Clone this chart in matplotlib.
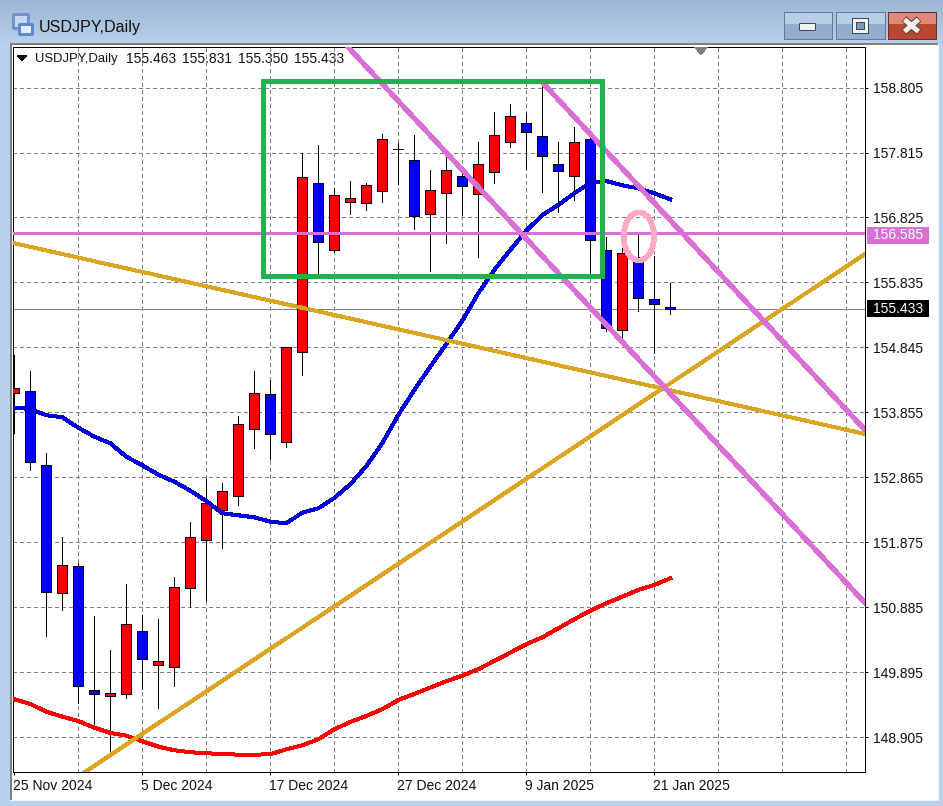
#!/usr/bin/env python3
# USDJPY daily chart, MT4 window look
import numpy as np
import matplotlib
matplotlib.use("Agg")
import matplotlib.pyplot as plt
from matplotlib.colors import LinearSegmentedColormap
from matplotlib.patches import Rectangle, Ellipse, Polygon, FancyBboxPatch
from matplotlib.transforms import ScaledTranslation

W, H = 943, 806
PX = 0.72  # 1 px in points at dpi 100

plt.rcParams["font.family"] = ["Liberation Sans", "DejaVu Sans"]
plt.rcParams["lines.antialiased"] = False
plt.rcParams["patch.antialiased"] = False

# ── data ──────────────────────────────────────────
opens = [154.148, 154.183, 153.051, 151.102, 151.513, 149.624, 149.533, 149.563, 150.523, 150.014, 149.974,
         151.178, 151.909, 152.366, 152.579, 153.599, 154.132, 153.401, 154.772, 157.351, 156.335, 157.066,
         157.051, 157.224, 157.864, 157.696, 156.874, 157.194, 157.453, 157.179, 157.514, 157.980, 158.260,
         158.062, 157.636, 157.453, 158.025, 156.326, 155.107, 156.219, 155.579, 155.463]
highs = [154.731, 154.487, 153.234, 151.959, 151.563, 150.756, 150.238, 151.243, 150.771, 150.710, 151.350,
         152.187, 152.842, 152.781, 153.802, 154.487, 154.350, 154.848, 157.808, 157.930, 157.275, 157.381,
         157.351, 158.097, 157.960, 158.082, 157.549, 157.762, 157.594, 157.975, 158.432, 158.554, 158.412,
         158.889, 157.975, 158.204, 158.036, 156.528, 156.376, 156.559, 156.239, 155.831]
lows = [153.548, 152.979, 150.451, 150.852, 149.435, 149.080, 148.689, 149.511, 149.644, 149.359, 149.694,
        150.893, 150.999, 151.796, 152.451, 153.319, 153.151, 153.334, 154.431, 155.934, 156.300, 156.879,
        156.939, 157.061, 157.340, 156.655, 156.015, 156.429, 156.863, 156.228, 157.355, 157.904, 157.564,
        157.218, 156.914, 157.096, 155.934, 155.101, 154.975, 155.406, 154.757, 155.350]
closes = [154.224, 153.106, 151.126, 151.528, 149.694, 149.563, 149.578, 150.629, 150.096, 150.066, 151.193,
          151.954, 152.472, 152.655, 153.675, 154.148, 153.532, 154.848, 157.438, 156.457, 157.163, 157.118,
          157.316, 158.016, 157.864, 156.853, 157.240, 157.544, 157.310, 157.636, 158.077, 158.367, 158.123,
          157.757, 157.538, 157.971, 156.478, 155.138, 156.280, 155.595, 155.503, 155.433]

ma_blue = [153.928, 153.908, 153.813, 153.782, 153.624, 153.487, 153.386, 153.182, 153.051, 152.908, 152.801,
           152.664, 152.507, 152.320, 152.289, 152.259, 152.192, 152.168, 152.329, 152.396, 152.553, 152.762,
           153.040, 153.386, 153.817, 154.198, 154.553, 154.898, 155.253, 155.671, 156.026, 156.330, 156.624,
           156.863, 157.016, 157.194, 157.355, 157.381, 157.316, 157.270, 157.194, 157.102]
ma_red = [149.487, 149.415, 149.298, 149.222, 149.156, 149.054, 148.974, 148.933, 148.847, 148.765, 148.710,
          148.680, 148.664, 148.654, 148.643, 148.643, 148.649, 148.725, 148.786, 148.878, 149.030, 149.141,
          149.233, 149.335, 149.476, 149.568, 149.664, 149.761, 149.846, 149.944, 150.070, 150.197, 150.325,
          150.431, 150.568, 150.705, 150.836, 150.949, 151.050, 151.152, 151.228, 151.330]

price_ticks = [158.805, 157.815, 156.825, 155.835, 154.845, 153.855, 152.865, 151.875, 150.885, 149.895, 148.905]
date_pos = [0, 8, 16, 24, 32, 40]
date_labels = ["25 Nov 2024", "5 Dec 2024", "17 Dec 2024", "27 Dec 2024", "9 Jan 2025", "21 Jan 2025"]
grid_pos = list(range(4, 53, 4))

res_level = 156.585
channel_low = ([20.86, 53.17], [159.422, 150.954])
channel_up = ([32.98, 53.17], [158.889, 153.589])
gold_down = ([-0.08, 53.17], [156.437, 153.528])
gold_up = ([4.42, 53.17], [148.380, 156.269])
green_box = (15.525, 155.927, 21.185, 2.980)   # x, y, w, h
pink_ring = (39.04, 156.537, 1.9, 0.731)       # x, y, w, h

# ── window chrome (pixel coords) ──────────────────
fig = plt.figure(figsize=(W / 100, H / 100), dpi=100, facecolor="#b9d1ea")
bg = fig.add_axes([0, 0, 1, 1], zorder=0)
bg.axis("off")
bg.imshow(np.linspace(0, 1, 44)[:, None], extent=(0, W, 44, 0), aspect="auto",
          cmap=LinearSegmentedColormap.from_list("t", ["#9cb6d4", "#b8d0e8"]), zorder=0)
bg.set_xlim(0, W); bg.set_ylim(H, 0)
bg.add_patch(Rectangle((10, 43), 929, 758, fc="#eef2f6", ec="none", zorder=1))
bg.add_patch(Rectangle((10, 43), 2, 757, fc="#808080", ec="none", zorder=2))
bg.add_patch(Rectangle((10, 43), 928, 2, fc="#808080", ec="none", zorder=2))
bg.add_patch(Rectangle((12, 45), 926, 755, fc="white", ec="none", zorder=2))

bg.text(39, 27.5, "USDJPY,Daily", fontsize=11.6, color="#111111", va="center", ha="left", zorder=3)
# small window icon
bg.add_patch(Rectangle((13, 14), 15, 14, fc="#c7d8ee", ec="#6f93cc", lw=1.2 * PX, zorder=3))
bg.add_patch(Rectangle((19, 24), 13, 10, fc="#e4eefb", ec="#5b87d6", lw=1.2 * PX, zorder=4))

buttons = [(783.5, "#b7cee7", "#93aecc", "#64799a"), (836, "#b7cee7", "#93aecc", "#64799a"),
           (887.5, "#e0897a", "#b9482e", "#6d2a3c")]
for bx, top, bot, edge in buttons:
    bg.add_patch(Rectangle((bx, 11.5), 48.5, 12.5, fc=top, ec="none", zorder=3))
    bg.add_patch(Rectangle((bx, 24), 48.5, 15, fc=bot, ec="none", zorder=3))
    bg.add_patch(Rectangle((bx, 11.5), 48.5, 27.5, fc="none", ec=edge, lw=1 * PX, zorder=4))
bg.add_patch(FancyBboxPatch((800, 24), 15, 6, boxstyle="round,pad=0.5", fc="#f2f2f2", ec="#3c4a60",
                            lw=1 * PX, antialiased=True, zorder=5))
bg.add_patch(Rectangle((852, 18), 16, 15, fc="#f2f2f2", ec="#3c4a60", lw=1 * PX, zorder=5))
bg.add_patch(Rectangle((856, 22), 7.5, 7, fc="#7f98b8", ec="#3c4a60", lw=1 * PX, zorder=6))
for x0, x1 in [(904, 919), (919, 904)]:
    bg.plot([x0, x1], [19, 32], color="#5a3a3a", lw=7 * PX, solid_capstyle="butt", antialiased=True, zorder=5)
for x0, x1 in [(904.5, 918.5), (918.5, 904.5)]:
    bg.plot([x0, x1], [19.5, 31.5], color="#f0f0f0", lw=5 * PX, solid_capstyle="butt", antialiased=True, zorder=6)

# ── chart axes ────────────────────────────────────
L, R, T, B = 13, 865, 47, 772
ax = fig.add_axes([L / W, 1 - B / H, (R - L) / W, (B - T) / H], zorder=2)
ax.patch.set_alpha(0)
ax.set_xlim(-0.08, 53.17)
ax.set_ylim(148.379, 159.422)
for s in ax.spines.values():
    s.set_linewidth(1 * PX)
    s.set_color("black")

ax.yaxis.tick_right()
ax.set_yticks(price_ticks)
ax.set_yticklabels([f"{p:.3f}" for p in price_ticks], fontsize=10, color="#111111")
ax.tick_params(axis="y", length=3 * PX, width=1 * PX, pad=3.6)
ax.set_xticks(date_pos)
ax.set_xticklabels(date_labels, fontsize=10, color="#111111", ha="left")
ax.tick_params(axis="x", length=3 * PX, width=1 * PX, pad=3)
shift = ScaledTranslation(-1 / 100, 0, fig.dpi_scale_trans)
for t in ax.get_xticklabels():
    t.set_transform(t.get_transform() + shift)

grid_style = dict(color="#808080", lw=1 * PX, ls=(0, (4, 3)), zorder=1)
for p in price_ticks:
    ax.axhline(p, **grid_style)
for g in grid_pos:
    ax.axvline(g, **grid_style)

# candles
xs = np.arange(len(opens))
o, h, l, c = map(np.array, (opens, highs, lows, closes))
ax.vlines(xs, l, h, color="black", lw=1 * PX, zorder=3)
up = c >= o
body_low = np.minimum(o, c)
body_h = np.abs(c - o)
ax.bar(xs[up], body_h[up], bottom=body_low[up], width=0.6, color="#ff0000", edgecolor="black", linewidth=1 * PX, zorder=4)
ax.bar(xs[~up], body_h[~up], bottom=body_low[~up], width=0.6, color="#0000ff", edgecolor="black", linewidth=1 * PX, zorder=4)

# moving averages
ax.plot(xs, ma_blue, color="#0000d8", lw=3 * PX, zorder=5)
ax.plot(xs, ma_red, color="#ff0000", lw=3 * PX, zorder=5)

# current price line
ax.axhline(closes[-1], color="#808080", lw=1 * PX, zorder=2)

# drawn objects
ax.plot(*gold_down, color="#daa520", lw=3 * PX, zorder=6)
ax.plot(*gold_up, color="#daa520", lw=3 * PX, zorder=6)
ax.axhline(res_level, color="#da70d6", lw=3 * PX, zorder=6)
ax.plot(*channel_low, color="#da70d6", lw=4 * PX, zorder=7)
ax.plot(*channel_up, color="#da70d6", lw=4 * PX, zorder=7)
ax.add_patch(Rectangle(green_box[:2], green_box[2], green_box[3], fc="none", ec="#22b14c", lw=4.6 * PX,
                       joinstyle="miter", zorder=8))
ax.add_patch(Ellipse(pink_ring[:2], pink_ring[2], pink_ring[3], fc="none", ec="#ffa9c6", lw=4.6 * PX, zorder=8))

# price tags on the axis
yt = ax.get_yaxis_transform()
for val, col, nudge in [(res_level, "#da70d6", -0.03), (closes[-1], "#000000", 0.0)]:
    ax.add_patch(Rectangle((1.0024, val + nudge - 0.13), 0.0728, 0.26, transform=yt, fc=col, ec="none",
                           clip_on=False, zorder=9))
    ax.text(1.0094, val + nudge, f"{val:.3f}", transform=yt, fontsize=10, color="white", va="center", ha="left",
            clip_on=False, zorder=10)

# header text and markers
bg.text(35, 59, "USDJPY,Daily", fontsize=9.4, color="#111111", va="center", ha="left", zorder=3)
for tx, val in zip([126, 182, 238, 294], [opens[-1], highs[-1], lows[-1], closes[-1]]):
    bg.text(tx, 59, f"{val:.3f}", fontsize=10, color="#111111", va="center", ha="left", zorder=3)
bg.add_patch(Polygon([[17, 55.5], [27, 55.5], [22, 60.5]], closed=True, fc="black", ec="none", zorder=3))
ax.add_patch(Polygon([[0.800, 1.0], [0.815, 1.0], [0.8075, 0.989]], closed=True, transform=ax.transAxes,
                     fc="#808080", ec="none", zorder=3))

fig.savefig("out.png", dpi=100)
